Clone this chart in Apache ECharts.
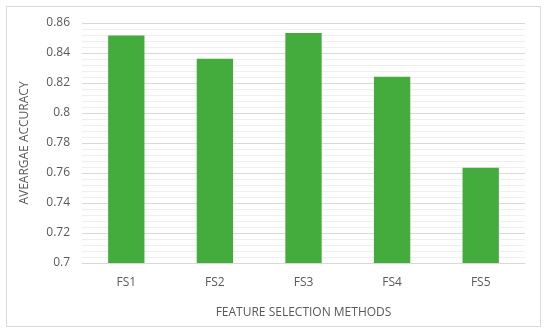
<!DOCTYPE html>
<html><head><meta charset="utf-8">
<script src="https://cdn.jsdelivr.net/npm/echarts@6/dist/echarts.min.js"></script>
<style>html,body{margin:0;padding:0;background:#fff}#c{width:550px;height:336px}
#frame{position:absolute;left:6px;top:6px;width:535px;height:321px;border:1px solid #d9d9d9;box-sizing:border-box;pointer-events:none}</style>
</head><body><div id="c"></div><div id="frame"></div>
<script>
const categories = ["FS1", "FS2", "FS3", "FS4", "FS5"];
const accuracy = [0.8517, 0.8362, 0.8533, 0.8242, 0.7635];
const yTicks = { min: 0.7, max: 0.86, step: 0.02 };
const xTitle = "FEATURE SELECTION METHODS";
const yTitle = "AVEARGAE ACCURACY";

const chart = echarts.init(document.getElementById('c'), null, {renderer: 'canvas'});
const font = "'Open Sans', sans-serif";
chart.setOption({
  animation: false,
  grid: { left: 82, right: 25, top: 23, bottom: 73, containLabel: false },
  xAxis: {
    type: 'category', data: categories,
    name: xTitle, nameLocation: 'middle', nameGap: 44,
    nameTextStyle: { color: '#595959', fontSize: 12, fontFamily: font },
    axisLine: { show: true, lineStyle: { color: '#d9d9d9', width: 1 } },
    axisTick: { show: false },
    axisLabel: { color: '#595959', fontSize: 12, fontFamily: font, margin: 14 }
  },
  yAxis: {
    type: 'value', min: yTicks.min, max: yTicks.max, interval: yTicks.step,
    name: yTitle, nameLocation: 'middle', nameGap: 51,
    nameTextStyle: { color: '#595959', fontSize: 12, fontFamily: font },
    axisLine: { show: false }, axisTick: { show: false },
    axisLabel: { color: '#595959', fontSize: 12, fontFamily: font, margin: 12,
      formatter: v => String(parseFloat(v.toFixed(2))) },
    splitLine: { lineStyle: { color: '#d9d9d9', width: 1 } },
    minorTick: { show: false, splitNumber: 5 },
    minorSplitLine: { show: true, lineStyle: { color: '#efefef', width: 1 } }
  },
  series: [{
    type: 'bar', data: accuracy, barWidth: '41%',
    itemStyle: { color: '#43AC3C' }
  }]
});
</script></body></html>
